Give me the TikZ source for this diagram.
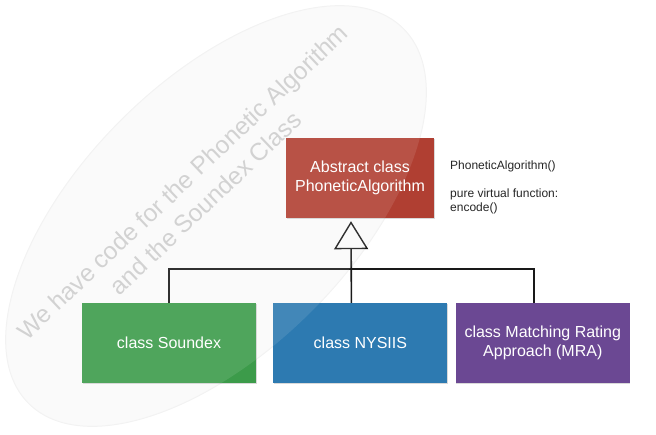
\documentclass[tikz,border=0pt]{standalone}
\usepackage{fontspec}
\setmainfont{Liberation Sans}
\usetikzlibrary{positioning}
\usetikzlibrary{calc}
\usetikzlibrary{arrows.meta}
\usetikzlibrary{shadows}
\definecolor{absred}{HTML}{B03F32}
\definecolor{sndgreen}{HTML}{3C9B4A}
\definecolor{nysblue}{HTML}{2D7AB1}
\definecolor{mrapurple}{HTML}{6B4893}
\definecolor{markgray}{HTML}{D2D2D2}
\tikzset{
  classbox/.style={minimum width=174pt, minimum height=80pt, inner sep=0pt,
    align=center, text=white, font=\fontsize{16}{19}\selectfont,
    drop shadow={shadow xshift=0.5pt, shadow yshift=-1.2pt, opacity=.3}},
  link/.style={line width=1.6pt, black!90},
  leaf/.style={rotate around={45:(E)}},
}

\begin{document}
\begin{tikzpicture}[x=1pt,y=-1pt]
  \useasboundingbox (0,0) rectangle (656,434);

  % the grey leaf behind everything
  \coordinate (E) at (216,216);
  \filldraw[fill=gray!4, draw=gray!10, line width=1pt, leaf] (E) ellipse [x radius=265, y radius=135];

  \node[classbox, fill=absred, minimum width=148pt] (abstract) at (360,178) {Abstract class\\PhoneticAlgorithm};
  \node[classbox, fill=sndgreen] (soundex) at (169,343) {class Soundex};
  \node[classbox, fill=nysblue] (nysiis) [right=17pt of soundex] {class NYSIIS};
  \node[classbox, fill=mrapurple] (mra) [right=8pt of nysiis] {class Matching Rating\\Approach (MRA)};

  \node[anchor=north west, inner sep=0pt, align=left, text=black!85,
    font=\fontsize{12}{14}\selectfont] (note) at (450,161)
    {PhoneticAlgorithm()\\[14pt]pure virtual function:\\encode()};

  \coordinate (hub) at ($(nysiis.north)+(-9,-34)$);

  \draw[link] (soundex.north) |- (hub) -| ($(mra.north)+(-9,0)$);
  \draw[link, -{Triangle[open, length=28pt, width=34pt, line width=1.4pt]}]
    ($(nysiis.north)+(-9,0)$) -- ($(abstract.south)+(-9,3)$);

  % light veil of the leaf over the boxes
  \fill[white, fill opacity=.1, leaf] (E) ellipse [x radius=265, y radius=135];

  \node[rotate=43.5, anchor=base, inner sep=0pt, text=markgray,
    font=\fontsize{24.5}{30}\selectfont] (mark1) at (188.5,188.5) {We have code for the Phonetic Algorithm};
  \node[rotate=43.5, anchor=base, inner sep=0pt, text=markgray,
    font=\fontsize{24.5}{30}\selectfont] (mark2) at (211.5,209.5) {and the Soundex Class};
\end{tikzpicture}
\end{document}
